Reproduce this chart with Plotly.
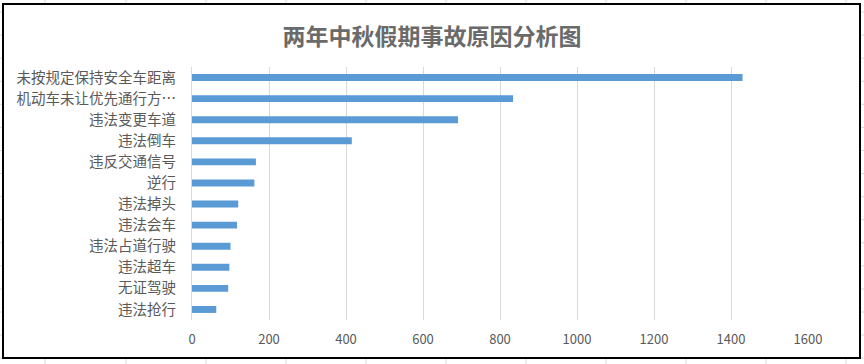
import plotly.graph_objects as go

categories = ["未按规定保持安全车距离", "机动车未让优先通行方…", "违法变更车道", "违法倒车",
              "违反交通信号", "逆行", "违法掉头", "违法会车", "违法占道行驶", "违法超车",
              "无证驾驶", "违法抢行"]
values = [1430, 834, 691, 415, 166, 162, 120, 117, 100, 97, 94, 63]
x_ticks = [0, 200, 400, 600, 800, 1000, 1200, 1400, 1600]

W, H = 864, 364
L, R, T, B = 192, 56, 67, 44
PW, PH = W - L - R, H - T - B

def px(x):
    return (x - L) / PW

def py(y):
    return (H - B - y) / PH

fig = go.Figure(go.Bar(
    x=values, y=categories, orientation="h",
    marker=dict(color="#5B9BD5", line=dict(width=0)),
))

shapes = []
grid_col = "#d9d9d9"
# spreadsheet cell lines outside the chart border
for cx in [45, 126, 206, 286, 366, 446, 526, 606, 686, 766, 846]:
    shapes.append(dict(type="line", xref="paper", yref="paper",
                       x0=px(cx), x1=px(cx), y0=py(0), y1=py(3),
                       line=dict(color=grid_col, width=1)))
    shapes.append(dict(type="line", xref="paper", yref="paper",
                       x0=px(cx), x1=px(cx), y0=py(359), y1=py(364),
                       line=dict(color=grid_col, width=1)))
for k in range(16):
    ry = 12 + 23.08 * k
    shapes.append(dict(type="line", xref="paper", yref="paper",
                       x0=px(0), x1=px(2), y0=py(ry), y1=py(ry),
                       line=dict(color=grid_col, width=1)))
    shapes.append(dict(type="line", xref="paper", yref="paper",
                       x0=px(861), x1=px(864), y0=py(ry), y1=py(ry),
                       line=dict(color=grid_col, width=1)))
# chart border
shapes.append(dict(type="rect", xref="paper", yref="paper",
                   x0=px(3), x1=px(860), y0=py(358), y1=py(4),
                   line=dict(color="black", width=2), fillcolor="rgba(0,0,0,0)"))

fig.update_layout(
    width=W, height=H,
    margin=dict(l=L, r=R, t=T, b=B),
    paper_bgcolor="white", plot_bgcolor="white",
    font=dict(family="Noto Sans CJK SC, sans-serif", color="#595959"),
    title=dict(text="<b>两年中秋假期事故原因分析图</b>", x=0.5, xanchor="center",
               xref="container", yref="container", y=1 - 37 / H, yanchor="middle",
               font=dict(size=23, color="#6a6a6a")),
    bargap=0.67,
    showlegend=False,
    shapes=shapes,
)
fig.update_xaxes(range=[0, 1600], tickvals=x_ticks, ticktext=[str(v) for v in x_ticks],
                 showgrid=True, gridcolor=grid_col, gridwidth=1, zeroline=False,
                 showline=False, ticks="", tickfont=dict(size=13, color="#595959"),
                 ticklabelstandoff=10)
fig.update_yaxes(categoryorder="array", categoryarray=categories, autorange="reversed",
                 showgrid=False, zeroline=False, showline=True, linecolor=grid_col, linewidth=1,
                 ticks="", tickfont=dict(size=14.5, color="#595959"), ticklabelstandoff=12)

fig.write_html("out.html", config={"displayModeBar": False},
               post_script="document.body.style.margin='0';document.body.style.overflow='hidden';")
